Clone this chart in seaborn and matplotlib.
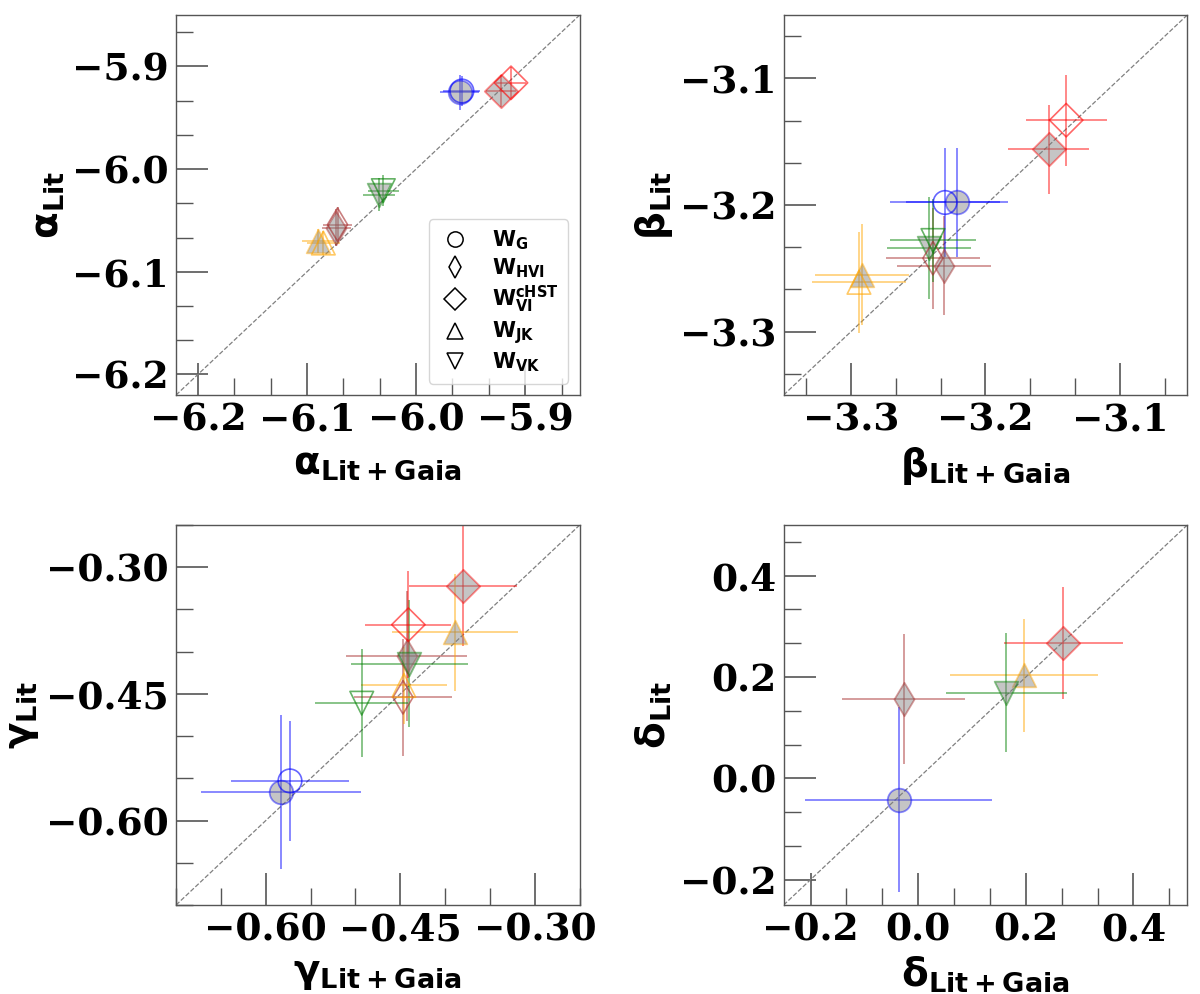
import numpy as np
import pandas as pd
import seaborn as sns
import matplotlib.pyplot as plt
from matplotlib.lines import Line2D
from matplotlib.ticker import MultipleLocator, AutoMinorLocator

# wesenheit functions (same order in every array below)

wes_names = ["G", "HVI", "cHST", "JK", "VK"]
wes_colors = ["blue", "brown", "red", "orange", "green"]
wes_markers = ["o", "d", "D", "^", "v"]
legend_labels = [r"$\mathbf{W_{G}}$", r"$\mathbf{W_{HVI}}$",
                 r"$\mathbf{W^{cHST}_{VI}}$", r"$\mathbf{W_{JK}}$",
                 r"$\mathbf{W_{VK}}$"]

# alpha (Lit+Gaia on x, Lit on y)

alpha_x_fill = [-5.960, -6.073, -5.922, -6.090, -6.034]
alpha_y_fill = [-5.925, -6.057, -5.924, -6.070, -6.025]
alpha_xerr_fill = [0.018, 0.013, 0.014, 0.015, 0.015]
alpha_yerr_fill = [0.017, 0.018, 0.016, 0.012, 0.016]

alpha_x_open = [-5.958, -6.072, -5.913, -6.085, -6.030]
alpha_y_open = [-5.924, -6.054, -5.916, -6.072, -6.021]
alpha_xerr_open = [0.017, 0.013, 0.014, 0.015, 0.014]
alpha_yerr_open = [0.015, 0.017, 0.015, 0.012, 0.015]

# beta

beta_x_fill = [-3.221, -3.231, -3.153, -3.292, -3.242]
beta_y_fill = [-3.198, -3.248, -3.156, -3.255, -3.234]
beta_xerr_fill = [0.038, 0.035, 0.030, 0.035, 0.031]
beta_yerr_fill = [0.043, 0.039, 0.035, 0.040, 0.040]

beta_x_open = [-3.230, -3.239, -3.140, -3.294, -3.239]
beta_y_open = [-3.198, -3.242, -3.133, -3.261, -3.228]
beta_xerr_open = [0.041, 0.035, 0.030, 0.035, 0.032]
beta_yerr_open = [0.043, 0.040, 0.036, 0.040, 0.033]

# gamma

gamma_x_fill = [-0.583, -0.443, -0.380, -0.389, -0.440]
gamma_y_fill = [-0.566, -0.405, -0.322, -0.377, -0.414]
gamma_xerr_fill = [0.089, 0.067, 0.060, 0.070, 0.065]
gamma_yerr_fill = [0.091, 0.077, 0.071, 0.069, 0.075]

gamma_x_open = [-0.573, -0.447, -0.441, -0.446, -0.493]
gamma_y_open = [-0.553, -0.454, -0.368, -0.440, -0.461]
gamma_xerr_open = [0.066, 0.055, 0.048, 0.048, 0.052]
gamma_yerr_open = [0.071, 0.069, 0.063, 0.046, 0.064]

# delta (only one set)

delta_x_fill = [-0.036, -0.027, 0.270, 0.197, 0.164]
delta_y_fill = [-0.042, 0.157, 0.267, 0.203, 0.169]
delta_xerr_fill = [0.174, 0.114, 0.111, 0.138, 0.113]
delta_yerr_fill = [0.182, 0.128, 0.110, 0.112, 0.117]

# panel setup

panels = [
    {"name": r"\alpha", "lim": (-6.22, -5.85), "major": 0.1,
     "fill": (alpha_x_fill, alpha_y_fill, alpha_xerr_fill, alpha_yerr_fill),
     "open": (alpha_x_open, alpha_y_open, alpha_xerr_open, alpha_yerr_open)},
    {"name": r"\beta", "lim": (-3.35, -3.05), "major": 0.1,
     "fill": (beta_x_fill, beta_y_fill, beta_xerr_fill, beta_yerr_fill),
     "open": (beta_x_open, beta_y_open, beta_xerr_open, beta_yerr_open)},
    {"name": r"\gamma", "lim": (-0.70, -0.25), "major": 0.15,
     "fill": (gamma_x_fill, gamma_y_fill, gamma_xerr_fill, gamma_yerr_fill),
     "open": (gamma_x_open, gamma_y_open, gamma_xerr_open, gamma_yerr_open)},
    {"name": r"\delta", "lim": (-0.25, 0.5), "major": 0.2,
     "fill": (delta_x_fill, delta_y_fill, delta_xerr_fill, delta_yerr_fill),
     "open": None},
]

# style

sns.set_style("ticks")
plt.rcParams["font.family"] = ["DejaVu Serif"]
plt.rcParams["font.weight"] = "bold"
plt.rcParams["mathtext.fontset"] = "dejavusans"
plt.rcParams["text.color"] = "black"
plt.rcParams["axes.labelcolor"] = "black"
plt.rcParams["xtick.labelcolor"] = "black"
plt.rcParams["ytick.labelcolor"] = "black"

fig, axes = plt.subplots(2, 2, figsize=(12, 9.94), dpi=100)
fig.subplots_adjust(left=0.1467, right=0.9894, top=0.9849, bottom=0.0895,
                    wspace=0.505, hspace=0.342)

msize = 17 ** 2

for ax, p in zip(axes.flat, panels):

    lo, hi = p["lim"]

    sets = [("fill", p["fill"])]
    if p["open"] is not None:
        sets.append(("open", p["open"]))

    # error bars first
    for kind, (xs, ys, xe, ye) in sets:
        for i in range(len(wes_names)):
            ax.errorbar(xs[i], ys[i], xerr=xe[i], yerr=ye[i], fmt="none",
                        ecolor=wes_colors[i], elinewidth=1.3, alpha=0.5,
                        capsize=0, zorder=2)

    # markers
    for kind, (xs, ys, xe, ye) in sets:
        df = pd.DataFrame({"x": xs, "y": ys, "wes": wes_names})
        for i, row in df.iterrows():
            if kind == "fill":
                sns.scatterplot(x=[row["x"]], y=[row["y"]], ax=ax,
                                marker=wes_markers[i], s=msize, color="gray",
                                edgecolor=wes_colors[i], linewidth=1.3,
                                alpha=0.45, legend=False, zorder=3)
            else:
                sns.scatterplot(x=[row["x"]], y=[row["y"]], ax=ax,
                                marker=wes_markers[i], s=msize,
                                color=wes_colors[i], edgecolor=wes_colors[i],
                                linewidth=1.2, alpha=0.6, legend=False,
                                zorder=3)
                ax.collections[-1].set_facecolor("none")

    # 1:1 line
    ax.plot([lo, hi], [lo, hi], ls="--", color="gray", lw=0.9, zorder=1)

    ax.set_xlim(lo, hi)
    ax.set_ylim(lo, hi)

    ax.xaxis.set_major_locator(MultipleLocator(p["major"]))
    ax.yaxis.set_major_locator(MultipleLocator(p["major"]))
    ax.xaxis.set_minor_locator(AutoMinorLocator(3))
    ax.yaxis.set_minor_locator(AutoMinorLocator(3))

    ax.tick_params(which="both", direction="in", color="#555555",
                   top=False, right=False, labelsize=27, pad=5,
                   labelcolor="black")
    ax.tick_params(which="major", length=23, width=1.2)
    ax.tick_params(which="minor", length=12, width=1.0)

    for spine in ax.spines.values():
        spine.set_visible(True)
        spine.set_color("#555555")
        spine.set_linewidth(1.0)

    ax.set_xlabel(r"$\mathbf{" + p["name"] + r"_{Lit+Gaia}}$", fontsize=28,
                  labelpad=4)
    ax.set_ylabel(r"$\mathbf{" + p["name"] + r"_{Lit}}$", fontsize=28,
                  labelpad=4)

# legend in the first panel

handles = [
    Line2D([], [], marker=m, color="black", mfc="none", ls="none",
           ms=11, mew=1.1)
    for m in wes_markers
]

axes[0, 0].legend(handles, legend_labels, loc="lower right", fontsize=15,
                  labelspacing=0.2, handlelength=1.6, handletextpad=1.0,
                  borderpad=0.45, borderaxespad=0.55)

fig.savefig("out.png", dpi=100)
